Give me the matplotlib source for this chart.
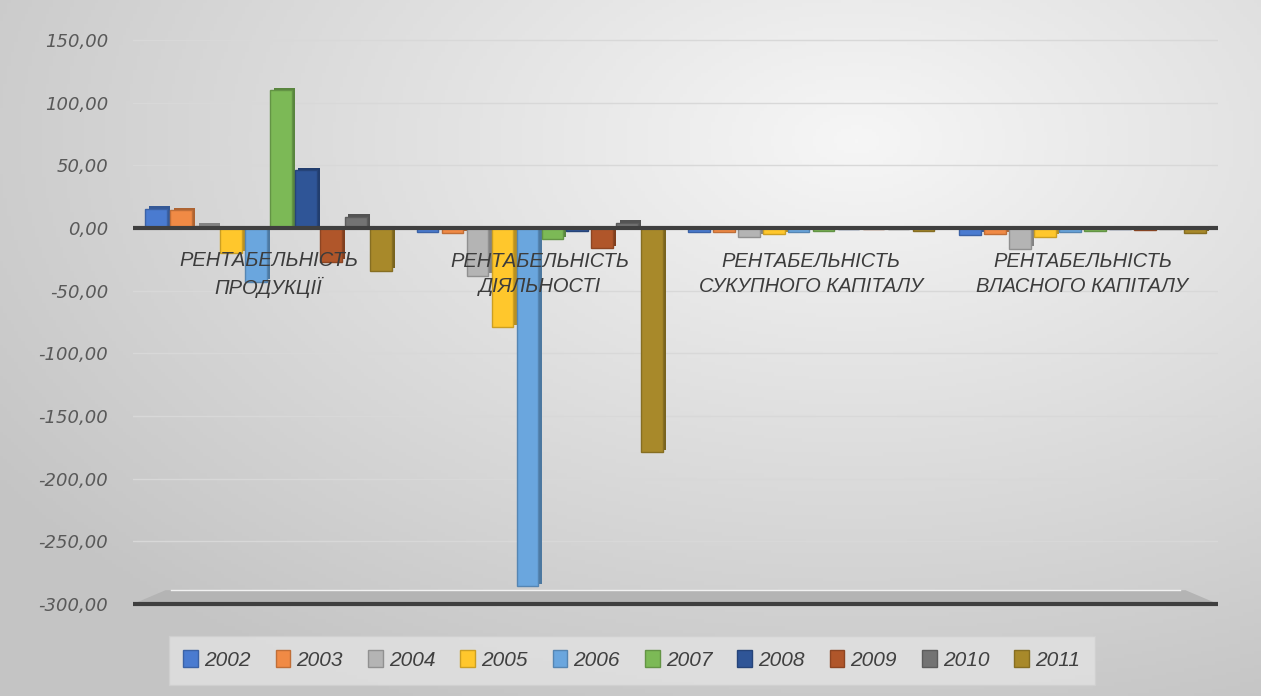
import matplotlib.pyplot as plt
import matplotlib.colors as mcolors
import numpy as np

# profitability indicators by year
categories = ['РЕНТАБЕЛЬНІСТЬ\nПРОДУКЦІЇ', 'РЕНТАБЕЛЬНІСТЬ\nДІЯЛЬНОСТІ',
              'РЕНТАБЕЛЬНІСТЬ\nСУКУПНОГО КАПІТАЛУ', 'РЕНТАБЕЛЬНІСТЬ\nВЛАСНОГО КАПІТАЛУ']
years = ['2002', '2003', '2004', '2005', '2006', '2007', '2008', '2009', '2010', '2011']
v2002 = [15.5, -3.0, -3.0, -5.5]
v2003 = [14.0, -4.0, -3.0, -5.0]
v2004 = [2.0, -38.0, -7.0, -16.5]
v2005 = [-20.0, -79.0, -5.0, -7.0]
v2006 = [-43.0, -286.0, -3.0, -3.0]
v2007 = [110.0, -9.0, -2.0, -2.0]
v2008 = [46.0, -2.0, -1.0, -1.0]
v2009 = [-27.0, -16.0, -1.0, -1.5]
v2010 = [9.0, 4.0, -0.5, -0.5]
v2011 = [-34.0, -179.0, -2.0, -4.0]
series = [v2002, v2003, v2004, v2005, v2006, v2007, v2008, v2009, v2010, v2011]
yticks = [150, 100, 50, 0, -50, -100, -150, -200, -250, -300]

colors = ['#4A7BD0', '#F08A45', '#B4B4B4', '#FFC72C', '#6AA6DE',
          '#7CB956', '#2F5597', '#B0562A', '#737373', '#A8892A']

narrow = ['Liberation Sans', 'DejaVu Sans']

def shade(c, f=0.72):
    r, g, b = mcolors.to_rgb(c)
    return (r * f, g * f, b * f)

W, H = 1261, 696
fig = plt.figure(figsize=(W / 100, H / 100), dpi=100)

# soft grey background, lighter towards the upper right
bg = fig.add_axes([0, 0, 1, 1], zorder=0)
yy, xx = np.mgrid[0:1:200j, 0:1:360j]
d = np.sqrt(((xx - 0.68) / 1.1) ** 2 + ((yy - 0.2) / 1.2) ** 2)
lum = np.clip(0.965 - 0.26 * d, 0.77, 0.965)
bg.imshow(np.dstack([lum, lum, lum]), aspect='auto', extent=[0, 1, 0, 1], origin='upper')
bg.axis('off')

left, right = 133 / W, 1218 / W
ax = fig.add_axes([left, 0.1142, right - left, 0.8463], zorder=1)
ax.patch.set_alpha(0)
ax.set_xlim(-0.5, 3.5)
ax.set_ylim(-310, 160)

x = np.arange(len(categories))
n = len(years)
step = 0.092
w = 0.08
dx, dy = 0.012, 2.0

for v in yticks:
    if v not in (0, -300):
        ax.axhline(v, color='#d8d8d8', lw=1.0, zorder=1)

# floor of the plot
fx = [-0.5, 3.5, 3.38, -0.38]
fy = [-300, -300, -289, -289]
ax.fill(fx, fy, color='#b4b4b4', zorder=1.5, lw=0)
ax.plot([-0.36, 3.36], [-288.5, -288.5], color='#f2f2f2', lw=1, zorder=1.6)
ax.axhline(-300, color='#3f3f3f', lw=3, zorder=6)

for i, (yr, vals, c) in enumerate(zip(years, series, colors)):
    pos = x + (i - (n - 1) / 2) * step
    ax.bar(pos + dx, vals, bottom=dy, width=w, color=shade(c), lw=0, zorder=2 + i * 0.01)
    ax.bar(pos, vals, width=w, color=c, edgecolor=shade(c, 0.8), lw=1.0,
           label=yr, zorder=3 + i * 0.01)

ax.axhline(0, color='#3f3f3f', lw=3, zorder=5)

for i, cat in enumerate(categories):
    ax.text(x[i], -37, cat, ha='center', va='center', fontsize=14.5,
            style='italic', color='#3c3c3c', linespacing=1.4, zorder=7,
            family=narrow)

ax.set_yticks(yticks)
ax.set_yticklabels([f'{v:.2f}'.replace('.', ',') for v in yticks],
                   fontsize=13, style='italic', color='#595959')
ax.tick_params(axis='y', length=0, pad=18)
ax.set_xticks([])
for s in ax.spines.values():
    s.set_visible(False)

leg = fig.legend(loc='center', bbox_to_anchor=(0.501, 1 - 660 / H), ncol=10,
                 frameon=True, facecolor='#e2e2e2', edgecolor='#d0d0d0',
                 handlelength=0.7, handleheight=0.9, handletextpad=0.3,
                 columnspacing=1.2, borderpad=0.7, fancybox=False,
                 prop={'family': narrow, 'style': 'italic', 'size': 15})
for t in leg.get_texts():
    t.set_color('#404040')

fig.savefig('out.png', dpi=100)
